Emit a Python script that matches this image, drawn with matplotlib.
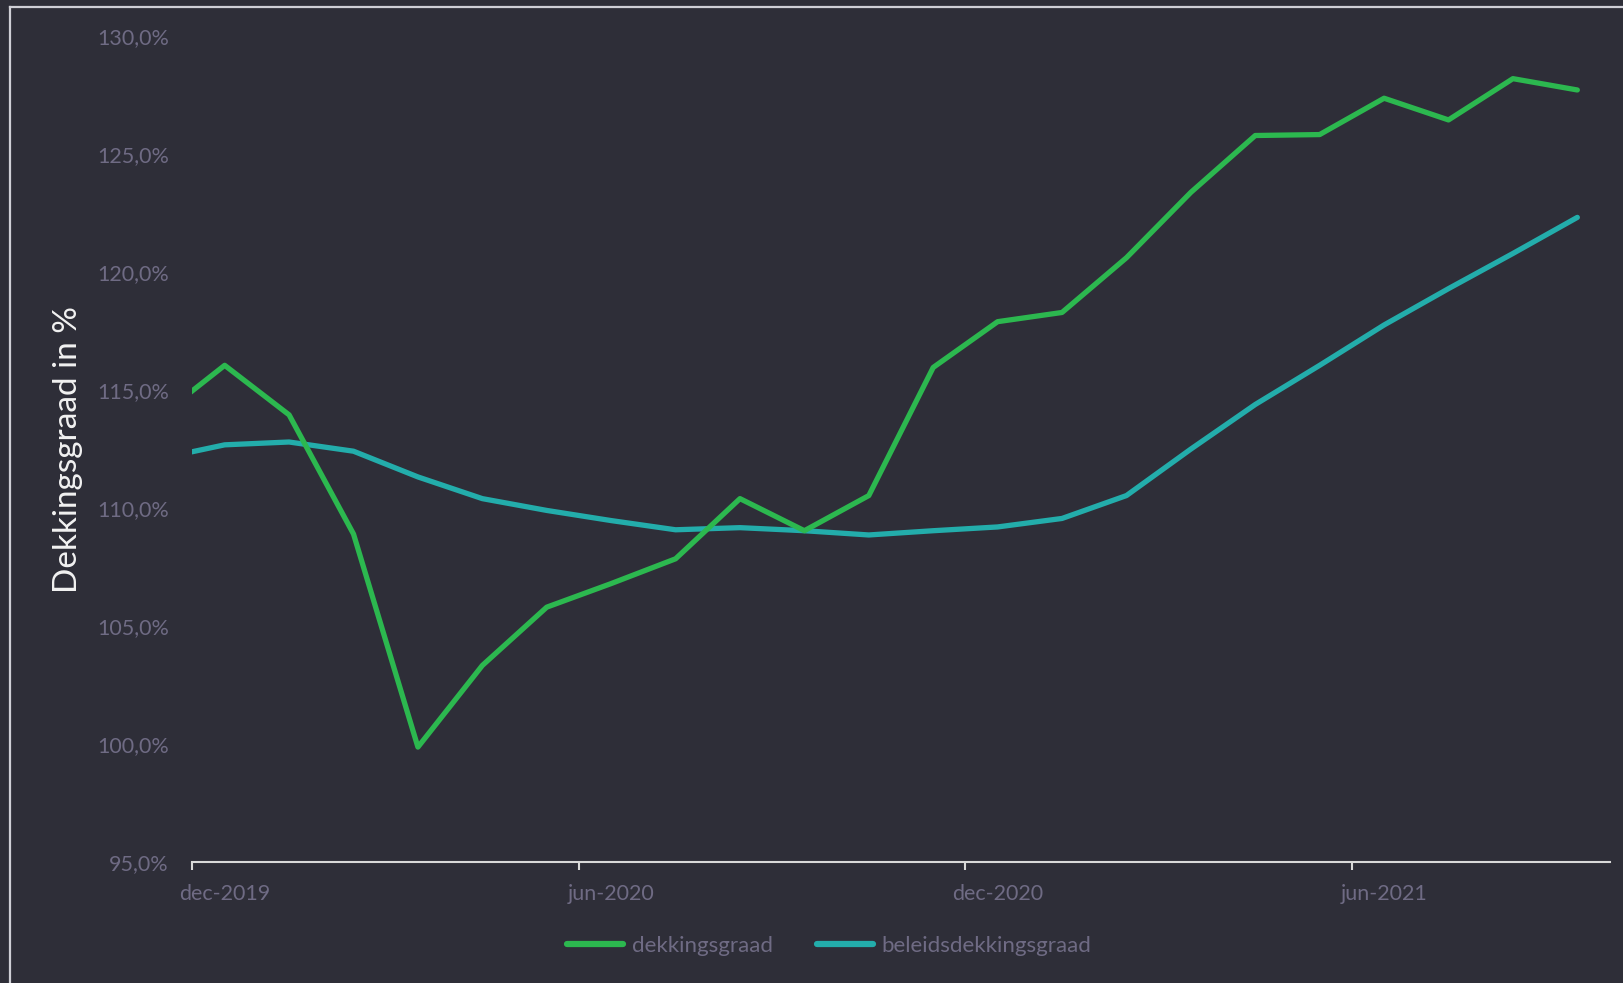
import matplotlib
matplotlib.use("Agg")
import matplotlib.pyplot as plt
import numpy as np
from matplotlib.lines import Line2D

# Months: nov-2019 (partly off-axis) .. sep-2021
months = ["nov-2019", "dec-2019", "jan-2020", "feb-2020", "mrt-2020", "apr-2020", "mei-2020",
          "jun-2020", "jul-2020", "aug-2020", "sep-2020", "okt-2020", "nov-2020",
          "dec-2020", "jan-2021", "feb-2021", "mrt-2021", "apr-2021", "mei-2021",
          "jun-2021", "jul-2021", "aug-2021", "sep-2021"]
dekkingsgraad = [113.9, 116.05, 113.95, 108.9, 99.87, 103.33, 105.8, 106.8, 107.85,
                 110.4, 109.04, 110.53, 115.96, 117.9, 118.29, 120.61, 123.38,
                 125.79, 125.83, 127.37, 126.45, 128.2, 127.72]
beleidsdekkingsgraad = [112.1, 112.68, 112.8, 112.41, 111.32, 110.4, 109.9, 109.47, 109.08,
                        109.17, 109.04, 108.86, 109.04, 109.2, 109.56, 110.53, 112.5,
                        114.39, 116.05, 117.76, 119.3, 120.79, 122.32]
tick_labels = ["dec-2019", "jun-2020", "dec-2020", "jun-2021"]
yticks = [95, 100, 105, 110, 115, 120, 125, 130]

BG = "#2e2e38"
GREEN = "#2cb84f"
TEAL = "#23adab"
GRAY = "#6f6b84"
FONT = "Lato"

plt.rcParams["font.family"] = [FONT, "DejaVu Sans"]

fig = plt.figure(figsize=(16.23, 9.83), dpi=100, facecolor=BG)
ax = fig.add_axes([0.1186, 0.1231, 0.8731, 0.8401], facecolor=BG)

x = np.arange(len(months)) - 1  # dec-2019 at 0

ax.plot(x, dekkingsgraad, color=GREEN, lw=3.8, solid_capstyle="round",
        solid_joinstyle="round", label="dekkingsgraad", zorder=3)
ax.plot(x, beleidsdekkingsgraad, color=TEAL, lw=3.8, solid_capstyle="round",
        solid_joinstyle="round", label="beleidsdekkingsgraad", zorder=2)

ax.set_xlim(-0.5, 21.5)
ax.set_ylim(95, 130)

# x axis: tick marks at category boundaries, labels centred on categories
label_pos = [months.index(m) - 1 for m in tick_labels]
ax.set_xticks([p - 0.5 for p in label_pos])
ax.set_xticklabels([])
ax.set_xticks(label_pos, minor=True)
ax.set_xticklabels(tick_labels, minor=True)
ax.tick_params(axis="x", which="major", direction="out", length=6, width=1.5,
               color="#d9d9d9")
ax.tick_params(axis="x", which="minor", length=0, pad=16, labelsize=15.5,
               labelcolor=GRAY)

ax.set_yticks(yticks)
ax.set_yticklabels([f"{v:.1f}".replace(".", ",") + "%" for v in yticks])
ax.tick_params(axis="y", length=0, pad=17, labelsize=15.5, labelcolor=GRAY)

for s in ["top", "right", "left"]:
    ax.spines[s].set_visible(False)
ax.spines["bottom"].set_color("#d9d9d9")
ax.spines["bottom"].set_linewidth(1.5)

ax.set_ylabel("Dekkingsgraad in %", color="#f2f2f2", fontsize=24)
ax.yaxis.set_label_coords(-0.077, 0.5)

leg = fig.legend(loc="center", bbox_to_anchor=(0.511, 0.0376), ncol=2,
                 frameon=False, fontsize=16, handlelength=2.5,
                 handletextpad=0.4, columnspacing=2.0)
for t in leg.get_texts():
    t.set_color(GRAY)
for h in leg.get_lines():
    h.set_linewidth(4.5)
    h.set_solid_capstyle("round")

# figure border (top and left visible)
fig.add_artist(Line2D([10 / 1623, 1.0], [1 - 7 / 983, 1 - 7 / 983],
                      transform=fig.transFigure, color="#cfcfd6", lw=1.6))
fig.add_artist(Line2D([10 / 1623, 10 / 1623], [0.0, 1 - 7 / 983],
                      transform=fig.transFigure, color="#cfcfd6", lw=1.6))

fig.savefig("out.png", dpi=100, facecolor=BG)
